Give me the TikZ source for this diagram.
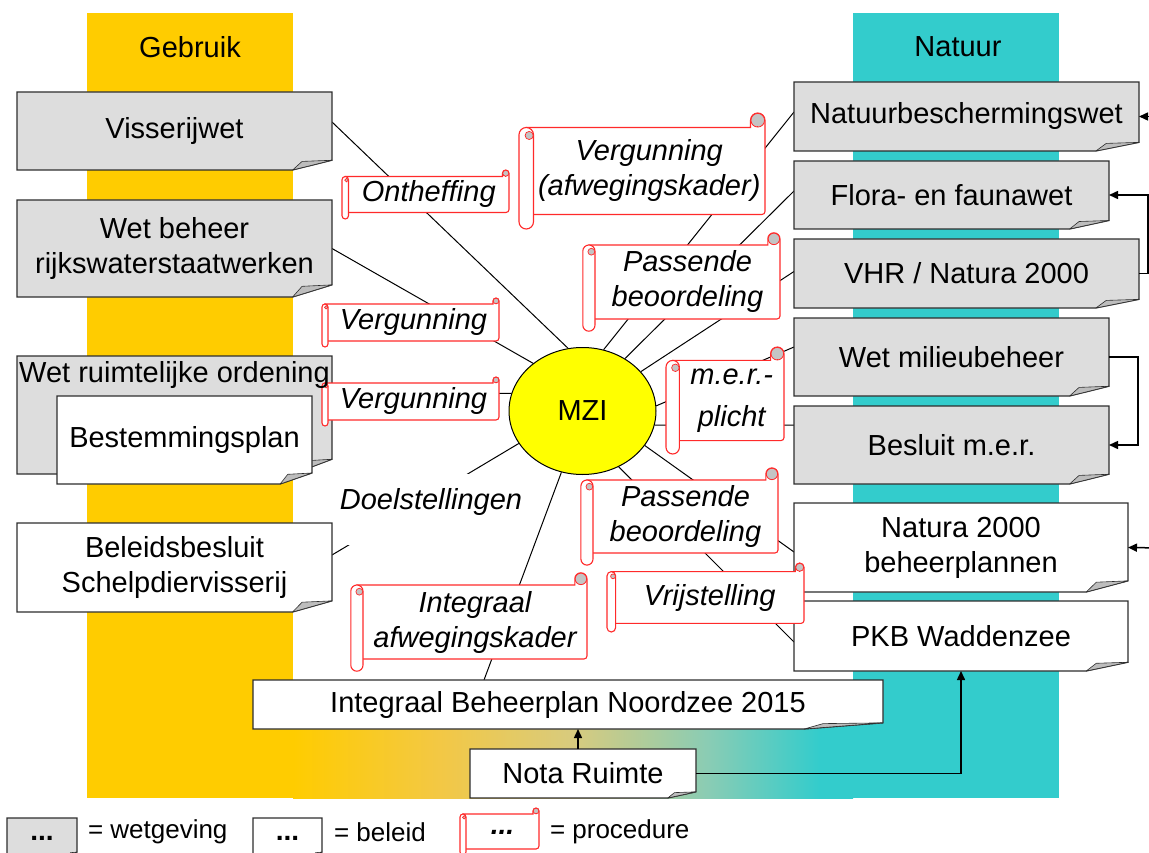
\documentclass[tikz,border=0pt]{standalone}
\usepackage{fontspec}
\setmainfont{Liberation Sans}
\usetikzlibrary{arrows.meta,calc,shapes.geometric}

\pgfdeclarelayer{bands}
\pgfdeclarelayer{links}
\pgfdeclarelayer{shapes}
\pgfsetlayers{bands,links,shapes,main}

\definecolor{useyellow}{HTML}{FFCC00}
\definecolor{naturecyan}{HTML}{33CCCC}
\definecolor{lawgray}{HTML}{DDDDDD}
\definecolor{foldgray}{HTML}{BDBDBD}
\definecolor{curlgray}{HTML}{C4C4C4}
\definecolor{scrollred}{HTML}{FF2A2A}
\definecolor{boxline}{HTML}{2E2E2E}
\definecolor{mziyellow}{HTML}{FFFF00}
\definecolor{grA}{HTML}{F3C844}
\definecolor{grB}{HTML}{D8CB7E}
\definecolor{grC}{HTML}{8ACCB4}

% yellow-to-cyan strip along the bottom
\pgfdeclarehorizontalshading{usetonature}{100bp}{%
  color(0bp)=(useyellow); color(25bp)=(useyellow); color(38bp)=(grA);
  color(50bp)=(grB); color(62bp)=(grC); color(72bp)=(naturecyan);
  color(100bp)=(naturecyan)}

\newcommand\bigtxt{\fontsize{29}{35}\selectfont}
\newcommand\legtxt{\fontsize{26}{30}\selectfont}

% sheet with a folded bottom-right corner, drawn behind node #1
\newcommand\foldshape[2]{%
\begin{pgfonlayer}{shapes}
\path[draw=boxline, fill=#2, line width=1.2pt]
 let \p1=(#1.north west), \p2=(#1.south east),
     \n1={0.125*(\x2-\x1)}, \n2={0.125*(\y1-\y2)} in
 (\x1,\y1) -- (\x2,\y1) -- (\x2,\y2+\n2) -- (\x2-\n1,\y2) -- (\x1,\y2) -- cycle;
\path[draw=boxline, fill=foldgray, line width=0.6pt, line join=round]
 let \p1=(#1.north west), \p2=(#1.south east),
     \n1={0.125*(\x2-\x1)}, \n2={0.125*(\y1-\y2)} in
 (\x2-\n1,\y2) -- (\x2-0.76*\n1,\y2+0.88*\n2) -- (\x2,\y2+\n2) -- cycle;
\end{pgfonlayer}}

% red scroll round node #1 (the node is the flat part), roll size #2
\newcommand\scrollshape[2]{%
\begin{pgfonlayer}{shapes}
\path[draw=scrollred, fill=white, line width=1.1pt]
 let \p1=(#1.north west), \p2=(#1.south east), \n1={#2} in
 (\x1-0.5*\n1,\y2) -- (\x1-0.5*\n1,\y1) -- (\x2-\n1,\y1) -- (\x2-\n1,\y1+0.5*\n1)
 arc[start angle=180, end angle=0, radius={0.5*\n1*1pt}]
 -- (\x2,\y2+3) arc[start angle=0, end angle=-90, radius=3pt] -- cycle;
\path[draw=scrollred, fill=curlgray, line width=0.8pt]
 let \p2=(#1.north east), \n1={#2} in
 (\x2-0.5*\n1,\y2+0.5*\n1) circle[radius={0.47*\n1*1pt}];
\path[draw=scrollred, line width=0.8pt]
 let \p2=(#1.north east), \n1={#2} in
 (\x2-0.5*\n1,\y2) -- (\x2-0.5*\n1,\y2+0.1*\n1);
\path[draw=scrollred, fill=white, line width=1.1pt]
 let \p1=(#1.north west), \p2=(#1.south east), \n1={#2} in
 (\x1-\n1,\y1-0.5*\n1) arc[start angle=180, end angle=0, radius={0.5*\n1*1pt}]
 -- (\x1,\y2-0.5*\n1) arc[start angle=0, end angle=-180, radius={0.5*\n1*1pt}] -- cycle;
\path[draw=scrollred, fill=curlgray, line width=0.7pt]
 let \p1=(#1.north west), \n1={#2} in
 (\x1-0.3*\n1,\y1-0.55*\n1) circle[radius={0.28*\n1*1pt}];
\end{pgfonlayer}}

\tikzset{
  box/.style={shape=rectangle, inner sep=0pt, outer sep=0pt, align=center, font=\bigtxt},
  scrollbody/.style={shape=rectangle, inner sep=0pt, outer sep=0pt, align=center, font=\bigtxt\itshape},
  txt/.style={inner sep=0pt, outer sep=0pt, font=\bigtxt},
  legend/.style={inner sep=0pt, outer sep=0pt, anchor=west, font=\legtxt},
  dots/.style={font=\fontsize{28}{30}\selectfont\bfseries, text height=0.8em, text depth=0.12em},
  link/.style={draw=black, line width=1pt},
  arrowlink/.style={draw=black, line width=1.5pt, -{Triangle[length=9pt,width=8pt]}}
}

\begin{document}
\begin{tikzpicture}[x=1pt, y=-1pt]
\useasboundingbox (0,0) rectangle (1149,853);

% ---- background columns ----
\begin{pgfonlayer}{bands}
\fill[useyellow] (87,13) rectangle (293,798);
\fill[naturecyan] (853,13) rectangle (1059,798);
\shade[shading=usetonature] (293,705) rectangle (853,798);
\end{pgfonlayer}

\node[txt] (gebruik) at (190,47) {Gebruik};
\node[txt] (natuur) at (958,47) {Natuur};

% ---- legislation and policy ----
\node[box, minimum width=315, minimum height=78] (viss) at (174.5,131) {Visserijwet};
\node[box, minimum width=315, minimum height=97] (wbr) at (174.5,248.5) {Wet beheer\\rijkswaterstaatwerken};
\node[box, minimum width=315, minimum height=118] (wro) at (174.5,415) {};
\node[txt] (wrotxt) at (174.5,375) {Wet ruimtelijke ordening};
\node[box, minimum width=255, minimum height=88] (bp) at (184.5,440) {Bestemmingsplan};
\node[box, minimum width=315, minimum height=89] (bbs) at (174.5,567.5) {Beleidsbesluit\\Schelpdiervisserij};

\node[box, minimum width=345, minimum height=69] (nbw) at (966.5,116.5) {Natuurbeschermingswet};
\node[box, minimum width=315, minimum height=68] (ffw) at (951.5,195) {Flora- en faunawet};
\node[box, minimum width=345, minimum height=69] (vhr) at (966.5,273.5) {VHR / Natura 2000};
\node[box, minimum width=315, minimum height=78] (wmb) at (951.5,357) {Wet milieubeheer};
\node[box, minimum width=315, minimum height=78] (bmer) at (951.5,445) {Besluit m.e.r.};
\node[box, minimum width=334, minimum height=89] (n2k) at (961,547.5) {Natura 2000\\beheerplannen};
\node[box, minimum width=334, minimum height=70] (pkb) at (961,636) {PKB Waddenzee};
\node[box, minimum width=630, minimum height=49] (ibn) at (568,704.5) {Integraal Beheerplan Noordzee 2015};
\node[box, minimum width=226, minimum height=49] (nota) at (583,773.5) {Nota Ruimte};

\foldshape{viss}{lawgray}
\foldshape{wbr}{lawgray}
\foldshape{wro}{lawgray}
\foldshape{bp}{white}
\foldshape{bbs}{white}
\foldshape{nbw}{lawgray}
\foldshape{ffw}{lawgray}
\foldshape{vhr}{lawgray}
\foldshape{wmb}{lawgray}
\foldshape{bmer}{lawgray}
\foldshape{n2k}{white}
\foldshape{pkb}{white}
\foldshape{ibn}{white}
\foldshape{nota}{white}

% ---- centre ----
\node[ellipse, draw=black, fill=mziyellow, line width=1pt, minimum width=147,
      minimum height=127, inner sep=0pt, font=\bigtxt] (mzi) at (582.5,411) {MZI};

% ---- procedures ----
\node[scrollbody, minimum width=160.5, minimum height=36] (onth) at (428.75,194.5) {Ontheffing};
\node[scrollbody, minimum width=231.5, minimum height=87] (vafw) at (649.25,171) {Vergunning\\(afwegingskader)};
\node[scrollbody, minimum width=185, minimum height=74] (pb1) at (687.5,282) {Passende\\beoordeling};
\node[scrollbody, minimum width=171, minimum height=37] (verg1) at (413.5,322.5) {Vergunning};
\node[scrollbody, minimum width=171, minimum height=37] (verg2) at (413.5,401.5) {Vergunning};
\node[scrollbody, minimum width=104.6, minimum height=80.2] (mer) at (731.7,400.5) {m.e.r.-\\[7pt]plicht};
\node[scrollbody, minimum width=185, minimum height=73] (pb2) at (685.5,516.5) {Passende\\beoordeling};
\node[scrollbody, minimum width=224, minimum height=74] (iafw) at (475,622) {Integraal\\afwegingskader};
\node[scrollbody, minimum width=188.4, minimum height=51.8] (vrij) at (709.8,597.5) {Vrijstelling};

\scrollshape{onth}{6.5}
\scrollshape{vafw}{14.5}
\scrollshape{pb1}{12.2}
\scrollshape{verg1}{6}
\scrollshape{verg2}{6}
\scrollshape{mer}{13.4}
\scrollshape{pb2}{12.1}
\scrollshape{iafw}{12.2}
\scrollshape{vrij}{8.6}

% ---- links to MZI ----
\begin{pgfonlayer}{links}
\draw[link] ([yshift=9]viss.east) -- (mzi.103);
\draw[link] (wbr.east) -- (mzi.136);
\draw[link] ([yshift=21]wro.east) -- (mzi.166);
\draw[link] ([yshift=12.5]bbs.east) -- (mzi.207);
\draw[link] ([xshift=-84]ibn.north) -- (mzi.251);
\draw[link] ([yshift=4.5]nbw.west) -- (mzi.71);
\draw[link] ([yshift=4]ffw.west) -- (mzi.51);
\draw[link] ([yshift=2]vhr.west) -- (mzi.34);
\draw[link] ([yshift=10]wmb.west) -- (mzi.4);
\draw[link] ([yshift=20]bmer.west) -- (mzi.349);
\draw[link] ([yshift=-4.5]n2k.west) -- (mzi.331);
\draw[link] ([yshift=-6]pkb.west) -- (mzi.303);
\end{pgfonlayer}

\node[txt, font=\bigtxt\itshape, fill=white, minimum width=190, minimum height=71,
      text height=0.75em, text depth=0.75em] (doel) at (431,509.5) {Doelstellingen};

% ---- arrows between documents ----
\coordinate (nbwin) at (1162,116.5);
\coordinate (n2kin) at (1162,548);
\draw[arrowlink] (nbwin) -- (nbw.east);
\draw[arrowlink] (vhr.east) -- ++(9,0) |- (ffw.east);
\draw[arrowlink] (wmb.east) -- ++(29,0) |- (bmer.east);
\draw[arrowlink] (n2kin) -- (n2k.east);
\draw[arrowlink] ([xshift=-5]nota.north) -- ([xshift=-5]nota.north |- ibn.south);
\draw[arrowlink] (nota.east) -| (pkb.south);

% ---- legend ----
\node[box, dots, minimum width=70, minimum height=39] (lgw) at (42,837.5) {...};
\node[box, dots, minimum width=69, minimum height=39] (lgb) at (287.5,837.5) {...};
\node[scrollbody, dots, minimum width=73, minimum height=35] (lgp) at (502.5,831.5) {\itshape ...};
\foldshape{lgw}{lawgray}
\foldshape{lgb}{white}
\scrollshape{lgp}{6}
\node[legend] (lgwt) at (88,832) {= wetgeving};
\node[legend] (lgbt) at (334,832) {= beleid};
\node[legend] (lgpt) at (550,832) {= procedure};
\end{tikzpicture}
\end{document}
